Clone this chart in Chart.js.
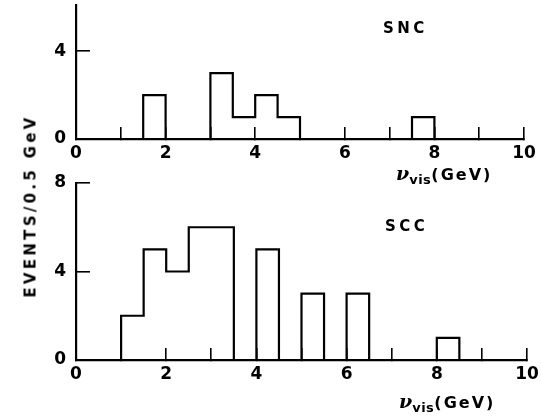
<!DOCTYPE html>
<html><head><meta charset="utf-8">
<script src="https://cdn.jsdelivr.net/npm/chart.js@4.4.0/dist/chart.umd.min.js"></script>
<style>
html,body{margin:0;padding:0;background:#fff;}
#wrap{position:relative;width:541px;height:418px;overflow:hidden;font-family:"DejaVu Sans",sans-serif;color:#000;}
canvas{position:absolute;left:0;top:0;}
.lbl{position:absolute;white-space:nowrap;line-height:1;font-weight:bold;}
.panel{font-size:15px;letter-spacing:3.5px;}
.xt{font-size:16px;letter-spacing:2px;}
.xt .nu{font-style:italic;font-size:19px;font-family:"DejaVu Serif",serif;font-weight:bold;letter-spacing:0;}
.xt sub{font-size:13px;font-weight:bold;letter-spacing:0.5px;vertical-align:-4px;}
#ytitle{left:31px;top:206px;transform:translate(-50%,-50%) rotate(-90deg);font-size:15px;letter-spacing:3.3px;}
</style></head><body>
<div id="wrap">
<canvas id="c1" width="541" height="418" style="width:541px;height:418px"></canvas>
<canvas id="c2" width="541" height="418" style="width:541px;height:418px"></canvas>
<div class="lbl panel" style="left:383px;top:21px;">SNC</div>
<div class="lbl panel" style="left:385px;top:219px;">SCC</div>
<div class="lbl xt" style="left:396px;top:164px;"><span class="nu">ν</span><sub>vis</sub>(GeV)</div>
<div class="lbl xt" style="left:399px;top:392px;"><span class="nu">ν</span><sub>vis</sub>(GeV)</div>
<div class="lbl" id="ytitle">EVENTS/0.5 GeV</div>
</div>
<script>
// bin edges (GeV), 0.5 GeV bins
const binEdges = [0,0.5,1,1.5,2,2.5,3,3.5,4,4.5,5,5.5,6,6.5,7,7.5,8,8.5,9,9.5,10];
// events per 0.5 GeV bin
const sncCounts = [0,0,0,2,0,0,3,1,2,1,0,0,0,0,0,1,0,0,0,0];
const sccCounts = [0,0,2,5,4,6,6,0,5,0,3,0,3,0,0,0,1,0,0,0];
// x tick labels (ticks at every integer, labels at even values)
const xTickValues = [0,1,2,3,4,5,6,7,8,9,10];
const xTickLabels = ['0','','2','','4','','6','','8','','10'];
const sncYTicks = [0,4];
const sccYTicks = [0,4,8];

const INK = '#000';
const TICKFONT = {family:'DejaVu Sans', size:17, weight:'bold'};

function histPoints(counts){
  const pts = counts.map((c,i)=>({x:binEdges[i], y:c}));
  pts.push({x:binEdges[binEdges.length-1], y:0});
  return pts;
}

function zeroPad(s){ s.paddingLeft = 0; s.paddingRight = 0; s.paddingTop = 0; s.paddingBottom = 0; }

function makeChart(id, counts, yMax, yTicks, pad){
  return new Chart(document.getElementById(id), {
    type:'line',
    data:{datasets:[{
      data:histPoints(counts),
      stepped:true,
      borderColor:INK,
      borderWidth:2.2,
      pointRadius:0,
      fill:false,
      clip:false
    }]},
    options:{
      responsive:false,
      animation:false,
      events:[],
      layout:{padding:pad},
      plugins:{legend:{display:false},tooltip:{enabled:false}},
      scales:{
        x:{
          type:'linear', min:0, max:10,
          afterBuildTicks:(s)=>{ s.ticks = xTickValues.map(v=>({value:v})); },
          afterFit:(s)=>{ s.height = 40; zeroPad(s); },
          ticks:{
            autoSkip:false, maxRotation:0,
            callback:(v)=>{ const i = xTickValues.indexOf(v); return i>=0 ? xTickLabels[i] : ''; },
            color:INK, font:TICKFONT, padding:16
          },
          grid:{drawOnChartArea:false, drawTicks:true, tickLength:-12, color:INK, lineWidth:1.6},
          border:{display:true, color:INK, width:2.2}
        },
        y:{
          type:'linear', min:0, max:yMax,
          afterBuildTicks:(s)=>{ s.ticks = yTicks.map(v=>({value:v})); },
          afterFit:(s)=>{ s.width = 76; zeroPad(s); },
          ticks:{color:INK, font:TICKFONT, padding:24},
          grid:{drawOnChartArea:false, drawTicks:true, tickLength:-14, color:INK, lineWidth:1.6},
          border:{display:true, color:INK, width:2.2}
        }
      }
    }
  });
}

makeChart('c1', sncCounts, 6.1, sncYTicks, {left:0, right:17, top:5, bottom:239});
makeChart('c2', sccCounts, 8, sccYTicks, {left:0, right:14, top:183, bottom:18});
</script>
</body></html>
